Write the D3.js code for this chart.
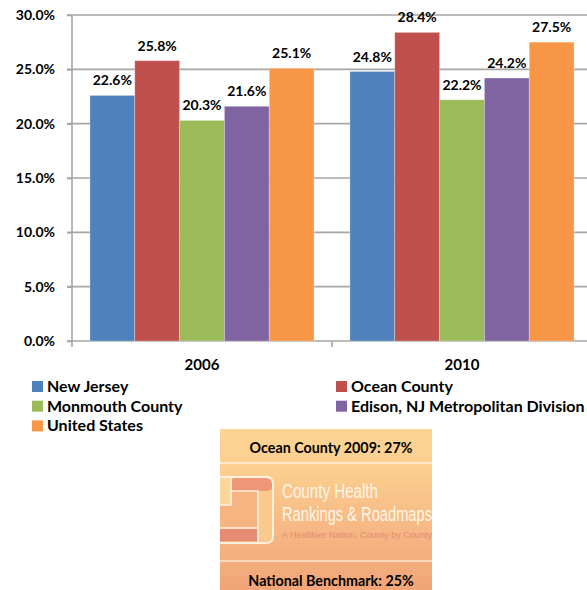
<!DOCTYPE html>
<html>
<head>
<meta charset="utf-8">
<script src="https://cdn.jsdelivr.net/npm/d3@7"></script>
<style>
  html, body { margin: 0; padding: 0; background: #fff; }
  svg { display: block; }
  text { font-family: Lato, "Open Sans", sans-serif; }
</style>
</head>
<body>
<svg id="chart" width="587" height="590"></svg>
<script>
// Years on the x axis
const years = ["2006", "2010"];
// Geographies, one bar each per year
const areas = ["New Jersey", "Ocean County", "Monmouth County", "Edison, NJ Metropolitan Division", "United States"];
const areaColors = ["#4f81bd", "#c0504d", "#9bbb59", "#8064a2", "#f79646"];
// Share of adults (fraction) per geography, by year
const values2006 = [0.226, 0.258, 0.203, 0.216, 0.251];
const values2010 = [0.248, 0.284, 0.222, 0.242, 0.275];
const valuesByYear = [values2006, values2010];
// Y-axis tick values
const yTicks = [0, 0.05, 0.10, 0.15, 0.20, 0.25, 0.30];
// Texts of the benchmark panel
const panelTop = "Ocean County 2009: 27%";
const panelBottom = "National Benchmark: 25%";
const logoLines = ["County Health", "Rankings & Roadmaps"];
const logoTagline = "A Healthier Nation, County by County";

const svg = d3.select("#chart");
const plot = { left: 72, right: 592, top: 15, bottom: 341 };

const y = d3.scaleLinear().domain([0, 0.30]).range([plot.bottom, plot.top]);
const x0 = d3.scaleBand().domain(years).range([plot.left, plot.right]).paddingInner(0).paddingOuter(0);
const x1 = d3.scaleBand().domain(areas).range([0, x0.bandwidth()]).paddingInner(0).paddingOuter(0.4);

const gridColor = "#a6a6a6";

// Horizontal gridlines
svg.append("g").selectAll("line").data(yTicks).join("line")
  .attr("x1", plot.left - 5).attr("x2", plot.right)
  .attr("y1", d => y(d)).attr("y2", d => y(d))
  .attr("stroke", gridColor).attr("stroke-width", 1.6);

// Y axis
const yAxis = d3.axisLeft(y).tickValues(yTicks).tickFormat(d3.format(".1%"))
  .tickSizeInner(5).tickSizeOuter(0).tickPadding(12);
const gy = svg.append("g").attr("transform", `translate(${plot.left},0)`).call(yAxis);
gy.select(".domain").remove();
gy.selectAll(".tick line").attr("stroke", gridColor).attr("stroke-width", 1.6);
gy.selectAll(".tick text").attr("fill", "#000").style("font-size", "14px").style("font-weight", "bold")
  .style("font-family", "Lato, sans-serif");
svg.append("line").attr("x1", plot.left).attr("x2", plot.left)
  .attr("y1", plot.top).attr("y2", plot.bottom + 6)
  .attr("stroke", gridColor).attr("stroke-width", 1.6);

// Category separators under the baseline
svg.append("g").selectAll("line").data(years.slice(1)).join("line")
  .attr("x1", d => x0(d)).attr("x2", d => x0(d))
  .attr("y1", plot.bottom).attr("y2", plot.bottom + 6)
  .attr("stroke", gridColor).attr("stroke-width", 1.6);

// Bars and value labels
const groups = svg.append("g").selectAll("g").data(years).join("g")
  .attr("transform", d => `translate(${x0(d)},0)`);

groups.each(function(year, yi) {
  const g = d3.select(this);
  const rows = areas.map((a, i) => ({ area: a, value: valuesByYear[yi][i], color: areaColors[i] }));
  g.selectAll("rect").data(rows).join("rect")
    .attr("x", d => x1(d.area))
    .attr("width", x1.bandwidth())
    .attr("y", d => y(d.value))
    .attr("height", d => y(0) - y(d.value))
    .attr("fill", d => d.color)
    .attr("stroke", "rgba(255,255,255,0.35)").attr("stroke-width", 0.8);
  g.selectAll("text").data(rows).join("text")
    .attr("x", d => x1(d.area) + x1.bandwidth() / 2)
    .attr("y", d => y(d.value) - 10)
    .attr("text-anchor", "middle")
    .style("font-size", "14px").style("font-weight", "bold").attr("fill", "#000")
    .text(d => d3.format(".1%")(d.value));
});

// Year labels
svg.append("g").selectAll("text").data(years).join("text")
  .attr("x", d => x0(d) + x0.bandwidth() / 2)
  .attr("y", 370)
  .attr("text-anchor", "middle")
  .style("font-size", "15px").style("font-weight", "bold").attr("fill", "#000")
  .text(d => d);

// Legend, filled row by row in two columns
const legend = svg.append("g");
areas.forEach((name, k) => {
  const col = k % 2, row = Math.floor(k / 2);
  const lx = col === 0 ? 32 : 336;
  const ly = 381 + row * 19.7;
  legend.append("rect").attr("x", lx).attr("y", ly).attr("width", 11).attr("height", 11)
    .attr("fill", areaColors[k]);
  legend.append("text").attr("x", lx + 15).attr("y", ly + 11)
    .style("font-size", "16px").style("font-weight", "bold").attr("fill", "#000")
    .text(name);
});

// Benchmark panel
const panel = { x: 220, y: 429, w: 212, h: 161 };
const defs = svg.append("defs");
const grad = defs.append("linearGradient").attr("id", "panelGrad")
  .attr("x1", 0).attr("y1", 0).attr("x2", 0).attr("y2", 1);
grad.append("stop").attr("offset", "0%").attr("stop-color", "#fdd495");
grad.append("stop").attr("offset", "22%").attr("stop-color", "#fcd08f");
grad.append("stop").attr("offset", "55%").attr("stop-color", "#f7bc87");
grad.append("stop").attr("offset", "100%").attr("stop-color", "#f1a478");

const p = svg.append("g").attr("transform", `translate(${panel.x},${panel.y})`);
p.append("rect").attr("width", panel.w).attr("height", panel.h).attr("fill", "url(#panelGrad)");
p.append("line").attr("x1", 0).attr("x2", panel.w).attr("y1", 34).attr("y2", 34)
  .attr("stroke", "#fff3df").attr("stroke-width", 1.5);
p.append("line").attr("x1", 0).attr("x2", panel.w).attr("y1", 132).attr("y2", 132)
  .attr("stroke", "#fbe6d6").attr("stroke-width", 1.5);
p.append("text").attr("x", panel.w / 2 + 5).attr("y", 24).attr("text-anchor", "middle")
  .style("font-size", "14.3px").style("font-weight", "bold").attr("fill", "#000").text(panelTop);
p.append("text").attr("x", panel.w / 2 + 5).attr("y", 157).attr("text-anchor", "middle")
  .style("font-size", "14.3px").style("font-weight", "bold").attr("fill", "#000").text(panelBottom);

// Logo mark: framed tiles
const logo = p.append("g");
const line = "#fdf0dc";
logo.append("rect").attr("x", 0).attr("y", 62).attr("width", 38).attr("height", 37).attr("fill", "#f6b480");
logo.append("rect").attr("x", 11).attr("y", 48).attr("width", 42).attr("height", 14).attr("rx", 6).attr("fill", "#ee9677");
logo.append("rect").attr("x", 11).attr("y", 55).attr("width", 10).attr("height", 7).attr("fill", "#ee9677");
logo.append("rect").attr("x", 38).attr("y", 62).attr("width", 14).attr("height", 51).attr("fill", "#fac98d");
logo.append("rect").attr("x", 0).attr("y", 100).attr("width", 38).attr("height", 12).attr("fill", "#e68c73");
logo.append("rect").attr("x", 0).attr("y", 48).attr("width", 11).attr("height", 28).attr("fill", "#fcd698");
logo.append("path")
  .attr("d", "M0,48 H46 Q53,48 53,55 V107 Q53,114 46,114 H0")
  .attr("fill", "none").attr("stroke", line).attr("stroke-width", 2);
logo.append("path").attr("d", "M11,48 V76 H0 M11,62 H38 V114 M0,99 H38")
  .attr("fill", "none").attr("stroke", line).attr("stroke-width", 1.6);

// Logo wordmark, squeezed horizontally into a condensed look
const wordFont = "'Liberation Sans', Arimo, sans-serif";
p.append("text").attr("x", 62).attr("y", 69)
  .attr("textLength", 96).attr("lengthAdjust", "spacingAndGlyphs")
  .style("font-size", "20px").style("font-family", wordFont)
  .attr("fill", "#fff6ea").text(logoLines[0]);
p.append("text").attr("x", 62).attr("y", 92)
  .attr("textLength", 150).attr("lengthAdjust", "spacingAndGlyphs")
  .style("font-size", "20px").style("font-family", wordFont)
  .attr("fill", "#fff6ea").text(logoLines[1]);
p.append("text").attr("x", 62).attr("y", 109)
  .attr("textLength", 150).attr("lengthAdjust", "spacingAndGlyphs")
  .style("font-size", "9px").style("font-family", wordFont)
  .attr("fill", "#e48c76").text(logoTagline);
</script>
</body>
</html>
